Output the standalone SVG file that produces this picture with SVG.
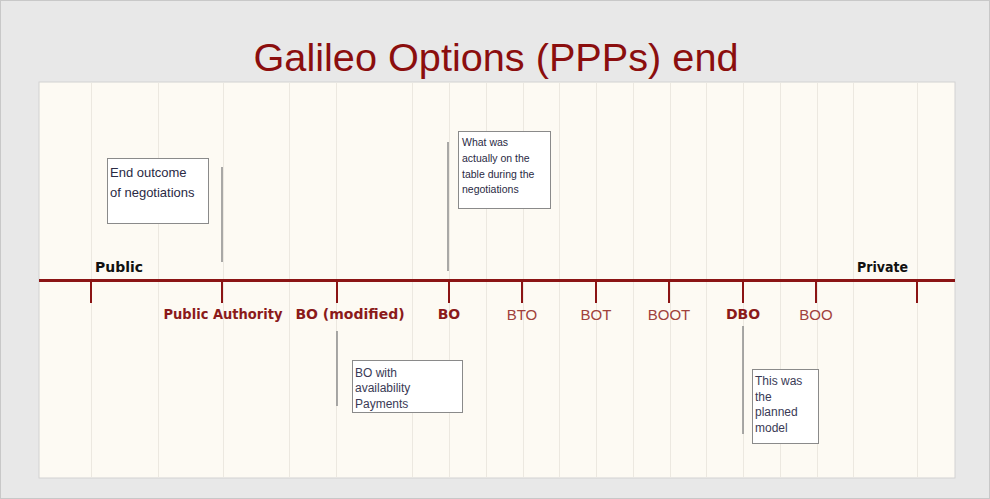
<svg xmlns="http://www.w3.org/2000/svg" width="990" height="499" viewBox="0 0 990 499">
<style>
.grid{stroke:#ece8e0;stroke-width:1}
.tick{stroke:#8b1414;stroke-width:2}
.lead{stroke:#8c8c8c;stroke-width:1.5}
.box{fill:#ffffff;stroke:#8a8a8a;stroke-width:1}
.lb{font-family:"DejaVu Sans","Liberation Sans",sans-serif;font-weight:bold;font-size:14px;fill:#8b1a1a;text-anchor:middle}
.ln{font-family:"Liberation Sans",sans-serif;font-size:15px;fill:#a0413c;text-anchor:middle}
.end{font-family:"DejaVu Sans","Liberation Sans",sans-serif;font-weight:bold;font-size:13.5px;fill:#111}
.bt{font-family:"Liberation Sans",sans-serif;font-size:13px;fill:#2a2a44}
.bs{font-family:"Liberation Sans",sans-serif;font-size:10.5px;fill:#2a2a44}
.bm{font-family:"Liberation Sans",sans-serif;font-size:12px;fill:#3a3a55}
</style>
<rect x="0.5" y="0.5" width="989" height="498" fill="#e8e8e8" stroke="#c8c8c8"/>
<text x="496" y="71" font-family="Liberation Sans, sans-serif" font-size="38" fill="#8b0e0e" text-anchor="middle" textLength="485" lengthAdjust="spacingAndGlyphs">Galileo Options (PPPs) end</text>
<rect x="39" y="82" width="916" height="396" fill="#fdfaf3" stroke="#d2d2d2"/>
<g id="grid">
<line class="grid" x1="91.5" y1="83" x2="91.5" y2="477"/>
<line class="grid" x1="158.5" y1="83" x2="158.5" y2="477"/>
<line class="grid" x1="223.5" y1="83" x2="223.5" y2="477"/>
<line class="grid" x1="289.5" y1="83" x2="289.5" y2="477"/>
<line class="grid" x1="336.5" y1="83" x2="336.5" y2="477"/>
<line class="grid" x1="412.5" y1="83" x2="412.5" y2="477"/>
<line class="grid" x1="449.5" y1="83" x2="449.5" y2="477"/>
<line class="grid" x1="486.5" y1="83" x2="486.5" y2="477"/>
<line class="grid" x1="523.5" y1="83" x2="523.5" y2="477"/>
<line class="grid" x1="559.5" y1="83" x2="559.5" y2="477"/>
<line class="grid" x1="596.5" y1="83" x2="596.5" y2="477"/>
<line class="grid" x1="633.5" y1="83" x2="633.5" y2="477"/>
<line class="grid" x1="670.5" y1="83" x2="670.5" y2="477"/>
<line class="grid" x1="706.5" y1="83" x2="706.5" y2="477"/>
<line class="grid" x1="743.5" y1="83" x2="743.5" y2="477"/>
<line class="grid" x1="780.5" y1="83" x2="780.5" y2="477"/>
<line class="grid" x1="817.5" y1="83" x2="817.5" y2="477"/>
<line class="grid" x1="853.5" y1="83" x2="853.5" y2="477"/>
<line class="grid" x1="917.5" y1="83" x2="917.5" y2="477"/>
</g>
<g id="connectors">
<line x1="39" y1="280.5" x2="955" y2="280.5" stroke="#8b1414" stroke-width="3"/>
<line class="tick" x1="91" y1="281" x2="91" y2="303"/>
<line class="tick" x1="222" y1="281" x2="222" y2="303"/>
<line class="tick" x1="337" y1="281" x2="337" y2="303"/>
<line class="tick" x1="449" y1="281" x2="449" y2="303"/>
<line class="tick" x1="522" y1="281" x2="522" y2="303"/>
<line class="tick" x1="596" y1="281" x2="596" y2="303"/>
<line class="tick" x1="669" y1="281" x2="669" y2="303"/>
<line class="tick" x1="743" y1="281" x2="743" y2="303"/>
<line class="tick" x1="816" y1="281" x2="816" y2="303"/>
<line class="tick" x1="917" y1="281" x2="917" y2="303"/>
<line class="lead" x1="222" y1="167" x2="222" y2="262"/>
<line class="lead" x1="448" y1="142" x2="448" y2="271"/>
<line class="lead" x1="337" y1="331" x2="337" y2="406"/>
<line class="lead" x1="743" y1="326" x2="743" y2="434"/>
</g>
<g id="ends">
<text class="end" x="95" y="272" textLength="48" lengthAdjust="spacingAndGlyphs">Public</text>
<text class="end" x="857" y="272" textLength="51" lengthAdjust="spacingAndGlyphs">Private</text>
</g>
<g id="labels">
<text class="lb" x="223" y="319" textLength="119" lengthAdjust="spacingAndGlyphs">Public Authority</text>
<text class="lb" x="350" y="319">BO (modified)</text>
<text class="lb" x="449" y="319">BO</text>
<text class="ln" x="522" y="320">BTO</text>
<text class="ln" x="596" y="320">BOT</text>
<text class="ln" x="669" y="320">BOOT</text>
<text class="lb" x="743" y="319">DBO</text>
<text class="ln" x="816" y="320">BOO</text>
</g>
<g id="note-end-outcome">
<rect class="box" x="107.5" y="158.5" width="101" height="65"/>
<text class="bt" x="110" y="177">End outcome</text>
<text class="bt" x="110" y="197">of negotiations</text>
</g>
<g id="note-table">
<rect class="box" x="458.5" y="131.5" width="92" height="77"/>
<text class="bs" x="462" y="146">What was</text>
<text class="bs" x="462" y="162">actually on the</text>
<text class="bs" x="462" y="178">table during the</text>
<text class="bs" x="462" y="193">negotiations</text>
</g>
<g id="note-availability">
<rect class="box" x="352.5" y="360.5" width="110" height="52"/>
<text class="bm" x="355" y="377">BO with</text>
<text class="bm" x="355" y="392">availability</text>
<text class="bm" x="355" y="408">Payments</text>
</g>
<g id="note-planned">
<rect class="box" x="752.5" y="369.5" width="66" height="74"/>
<text class="bm" x="755" y="385">This was</text>
<text class="bm" x="755" y="401">the</text>
<text class="bm" x="755" y="416">planned</text>
<text class="bm" x="755" y="432">model</text>
</g>
</svg>
